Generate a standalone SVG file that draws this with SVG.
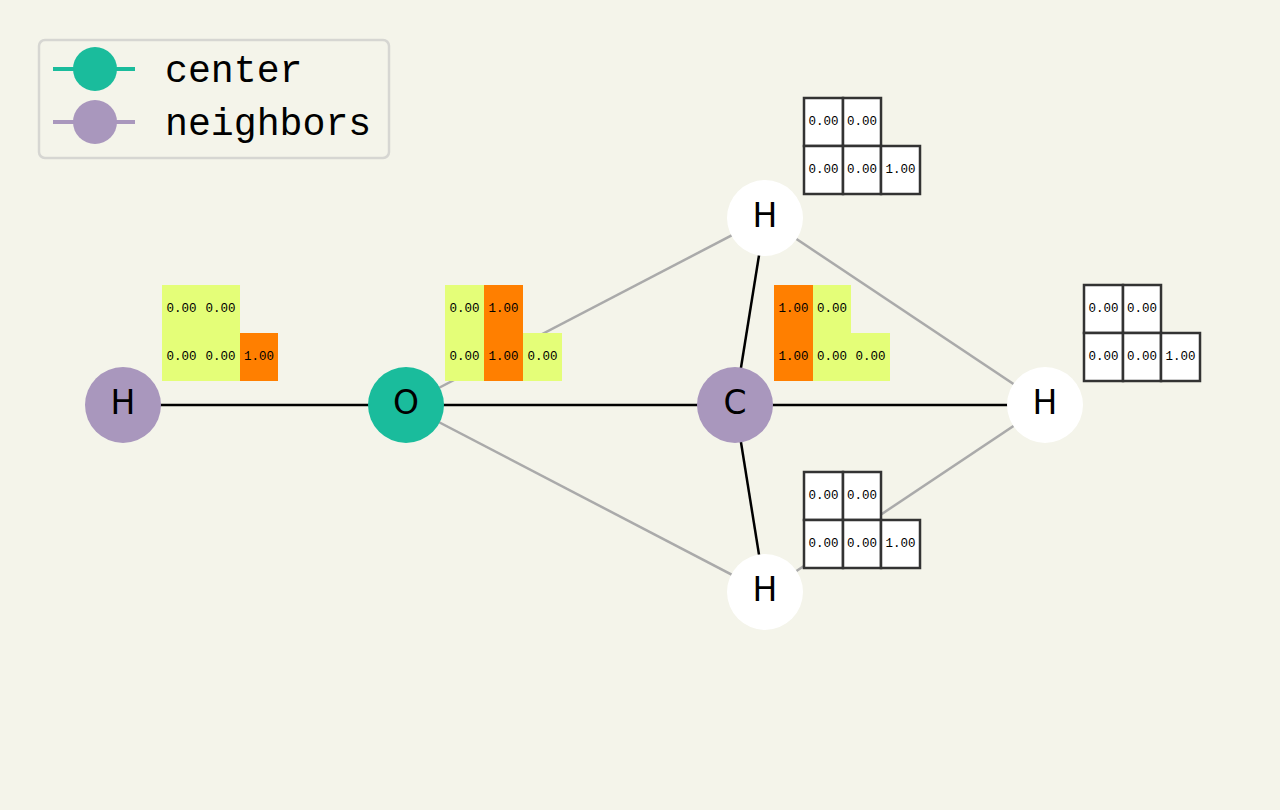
<svg xmlns="http://www.w3.org/2000/svg" width="1280" height="810" viewBox="0 0 1280 810">
<style>
.bond{stroke:#000;stroke-width:2.5;fill:none}
.link{stroke:#aaaaaa;stroke-width:2.5;fill:none}
.lbl{font-family:"DejaVu Sans",sans-serif;font-size:33px;fill:#000;text-anchor:middle}
.m{font-family:"Liberation Mono",monospace;font-size:12.5px;fill:#000;text-anchor:middle}
.y{fill:#e4fe78}
.o{fill:#ff7f00}
.w{fill:#fff;stroke:#333;stroke-width:2.5}
.leg{font-family:"Liberation Mono",monospace;font-size:38.2px;fill:#000}
</style>
<rect width="1280" height="810" fill="#f4f4ea"/>
<g id="legend">
<rect x="39" y="40" width="350" height="118" rx="6" fill="#f4f4ea" stroke="#d6d6d2" stroke-width="2.5"/>
<line x1="53" y1="69" x2="135" y2="69" stroke="#1abc9c" stroke-width="4"/>
<circle cx="95" cy="69" r="22" fill="#1abc9c"/>
<text class="leg" x="165" y="82">center</text>
<line x1="53" y1="122" x2="135" y2="122" stroke="#a997bd" stroke-width="4"/>
<circle cx="95" cy="122" r="22" fill="#a997bd"/>
<text class="leg" x="165" y="135">neighbors</text>
</g>
<g id="connectors">
<line class="link" x1="406" y1="405" x2="765" y2="218"/>
<line class="link" x1="406" y1="405" x2="765" y2="592"/>
<line class="link" x1="765" y1="218" x2="1045" y2="405"/>
<line class="link" x1="765" y1="592" x2="1045" y2="405"/>
<line class="bond" x1="123" y1="405" x2="406" y2="405"/>
<line class="bond" x1="406" y1="405" x2="735" y2="405"/>
<line class="bond" x1="735" y1="405" x2="1045" y2="405"/>
<line class="bond" x1="735" y1="405" x2="765" y2="218"/>
<line class="bond" x1="735" y1="405" x2="765" y2="592"/>
</g>
<g id="mat-H1">
<rect class="y" x="162" y="285" width="39" height="48"/>
<rect class="y" x="201" y="285" width="39" height="48"/>
<rect class="y" x="162" y="333" width="39" height="48"/>
<rect class="y" x="201" y="333" width="39" height="48"/>
<rect class="o" x="240" y="333" width="38" height="48"/>
<text class="m" x="181.5" y="312">0.00</text>
<text class="m" x="220.5" y="312">0.00</text>
<text class="m" x="181.5" y="360">0.00</text>
<text class="m" x="220.5" y="360">0.00</text>
<text class="m" x="259" y="360">1.00</text>
</g>
<g id="mat-O">
<rect class="y" x="445" y="285" width="39" height="48"/>
<rect class="o" x="484" y="285" width="39" height="48"/>
<rect class="y" x="445" y="333" width="39" height="48"/>
<rect class="o" x="484" y="333" width="39" height="48"/>
<rect class="y" x="523" y="333" width="39" height="48"/>
<text class="m" x="464.5" y="312">0.00</text>
<text class="m" x="503.5" y="312">1.00</text>
<text class="m" x="464.5" y="360">0.00</text>
<text class="m" x="503.5" y="360">1.00</text>
<text class="m" x="542.5" y="360">0.00</text>
</g>
<g id="mat-C">
<rect class="o" x="774" y="285" width="39" height="48"/>
<rect class="y" x="813" y="285" width="38" height="48"/>
<rect class="o" x="774" y="333" width="39" height="48"/>
<rect class="y" x="813" y="333" width="38" height="48"/>
<rect class="y" x="851" y="333" width="39" height="48"/>
<text class="m" x="793.5" y="312">1.00</text>
<text class="m" x="832" y="312">0.00</text>
<text class="m" x="793.5" y="360">1.00</text>
<text class="m" x="832" y="360">0.00</text>
<text class="m" x="870.5" y="360">0.00</text>
</g>
<g id="mat-Htop">
<rect class="w" x="804" y="98" width="39" height="48"/>
<rect class="w" x="843" y="98" width="38" height="48"/>
<rect class="w" x="804" y="146" width="39" height="48"/>
<rect class="w" x="843" y="146" width="38" height="48"/>
<rect class="w" x="881" y="146" width="39" height="48"/>
<text class="m" x="823.5" y="125">0.00</text>
<text class="m" x="862" y="125">0.00</text>
<text class="m" x="823.5" y="173">0.00</text>
<text class="m" x="862" y="173">0.00</text>
<text class="m" x="900.5" y="173">1.00</text>
</g>
<g id="mat-Hright">
<rect class="w" x="1084" y="285" width="39" height="48"/>
<rect class="w" x="1123" y="285" width="38" height="48"/>
<rect class="w" x="1084" y="333" width="39" height="48"/>
<rect class="w" x="1123" y="333" width="38" height="48"/>
<rect class="w" x="1161" y="333" width="39" height="48"/>
<text class="m" x="1103.5" y="312">0.00</text>
<text class="m" x="1142" y="312">0.00</text>
<text class="m" x="1103.5" y="360">0.00</text>
<text class="m" x="1142" y="360">0.00</text>
<text class="m" x="1180.5" y="360">1.00</text>
</g>
<g id="mat-Hbottom">
<rect class="w" x="804" y="472" width="39" height="48"/>
<rect class="w" x="843" y="472" width="38" height="48"/>
<rect class="w" x="804" y="520" width="39" height="48"/>
<rect class="w" x="843" y="520" width="38" height="48"/>
<rect class="w" x="881" y="520" width="39" height="48"/>
<text class="m" x="823.5" y="499">0.00</text>
<text class="m" x="862" y="499">0.00</text>
<text class="m" x="823.5" y="547">0.00</text>
<text class="m" x="862" y="547">0.00</text>
<text class="m" x="900.5" y="547">1.00</text>
</g>
<g id="node-H1"><circle cx="123" cy="405" r="38" fill="#a997bd"/><text class="lbl" x="123" y="414">H</text></g>
<g id="node-O"><circle cx="406" cy="405" r="38" fill="#1abc9c"/><text class="lbl" x="406" y="414">O</text></g>
<g id="node-C"><circle cx="735" cy="405" r="38" fill="#a997bd"/><text class="lbl" x="735" y="414">C</text></g>
<g id="node-Htop"><circle cx="765" cy="218" r="38" fill="#fff"/><text class="lbl" x="765" y="227">H</text></g>
<g id="node-Hright"><circle cx="1045" cy="405" r="38" fill="#fff"/><text class="lbl" x="1045" y="414">H</text></g>
<g id="node-Hbottom"><circle cx="765" cy="592" r="38" fill="#fff"/><text class="lbl" x="765" y="601">H</text></g>
</svg>
